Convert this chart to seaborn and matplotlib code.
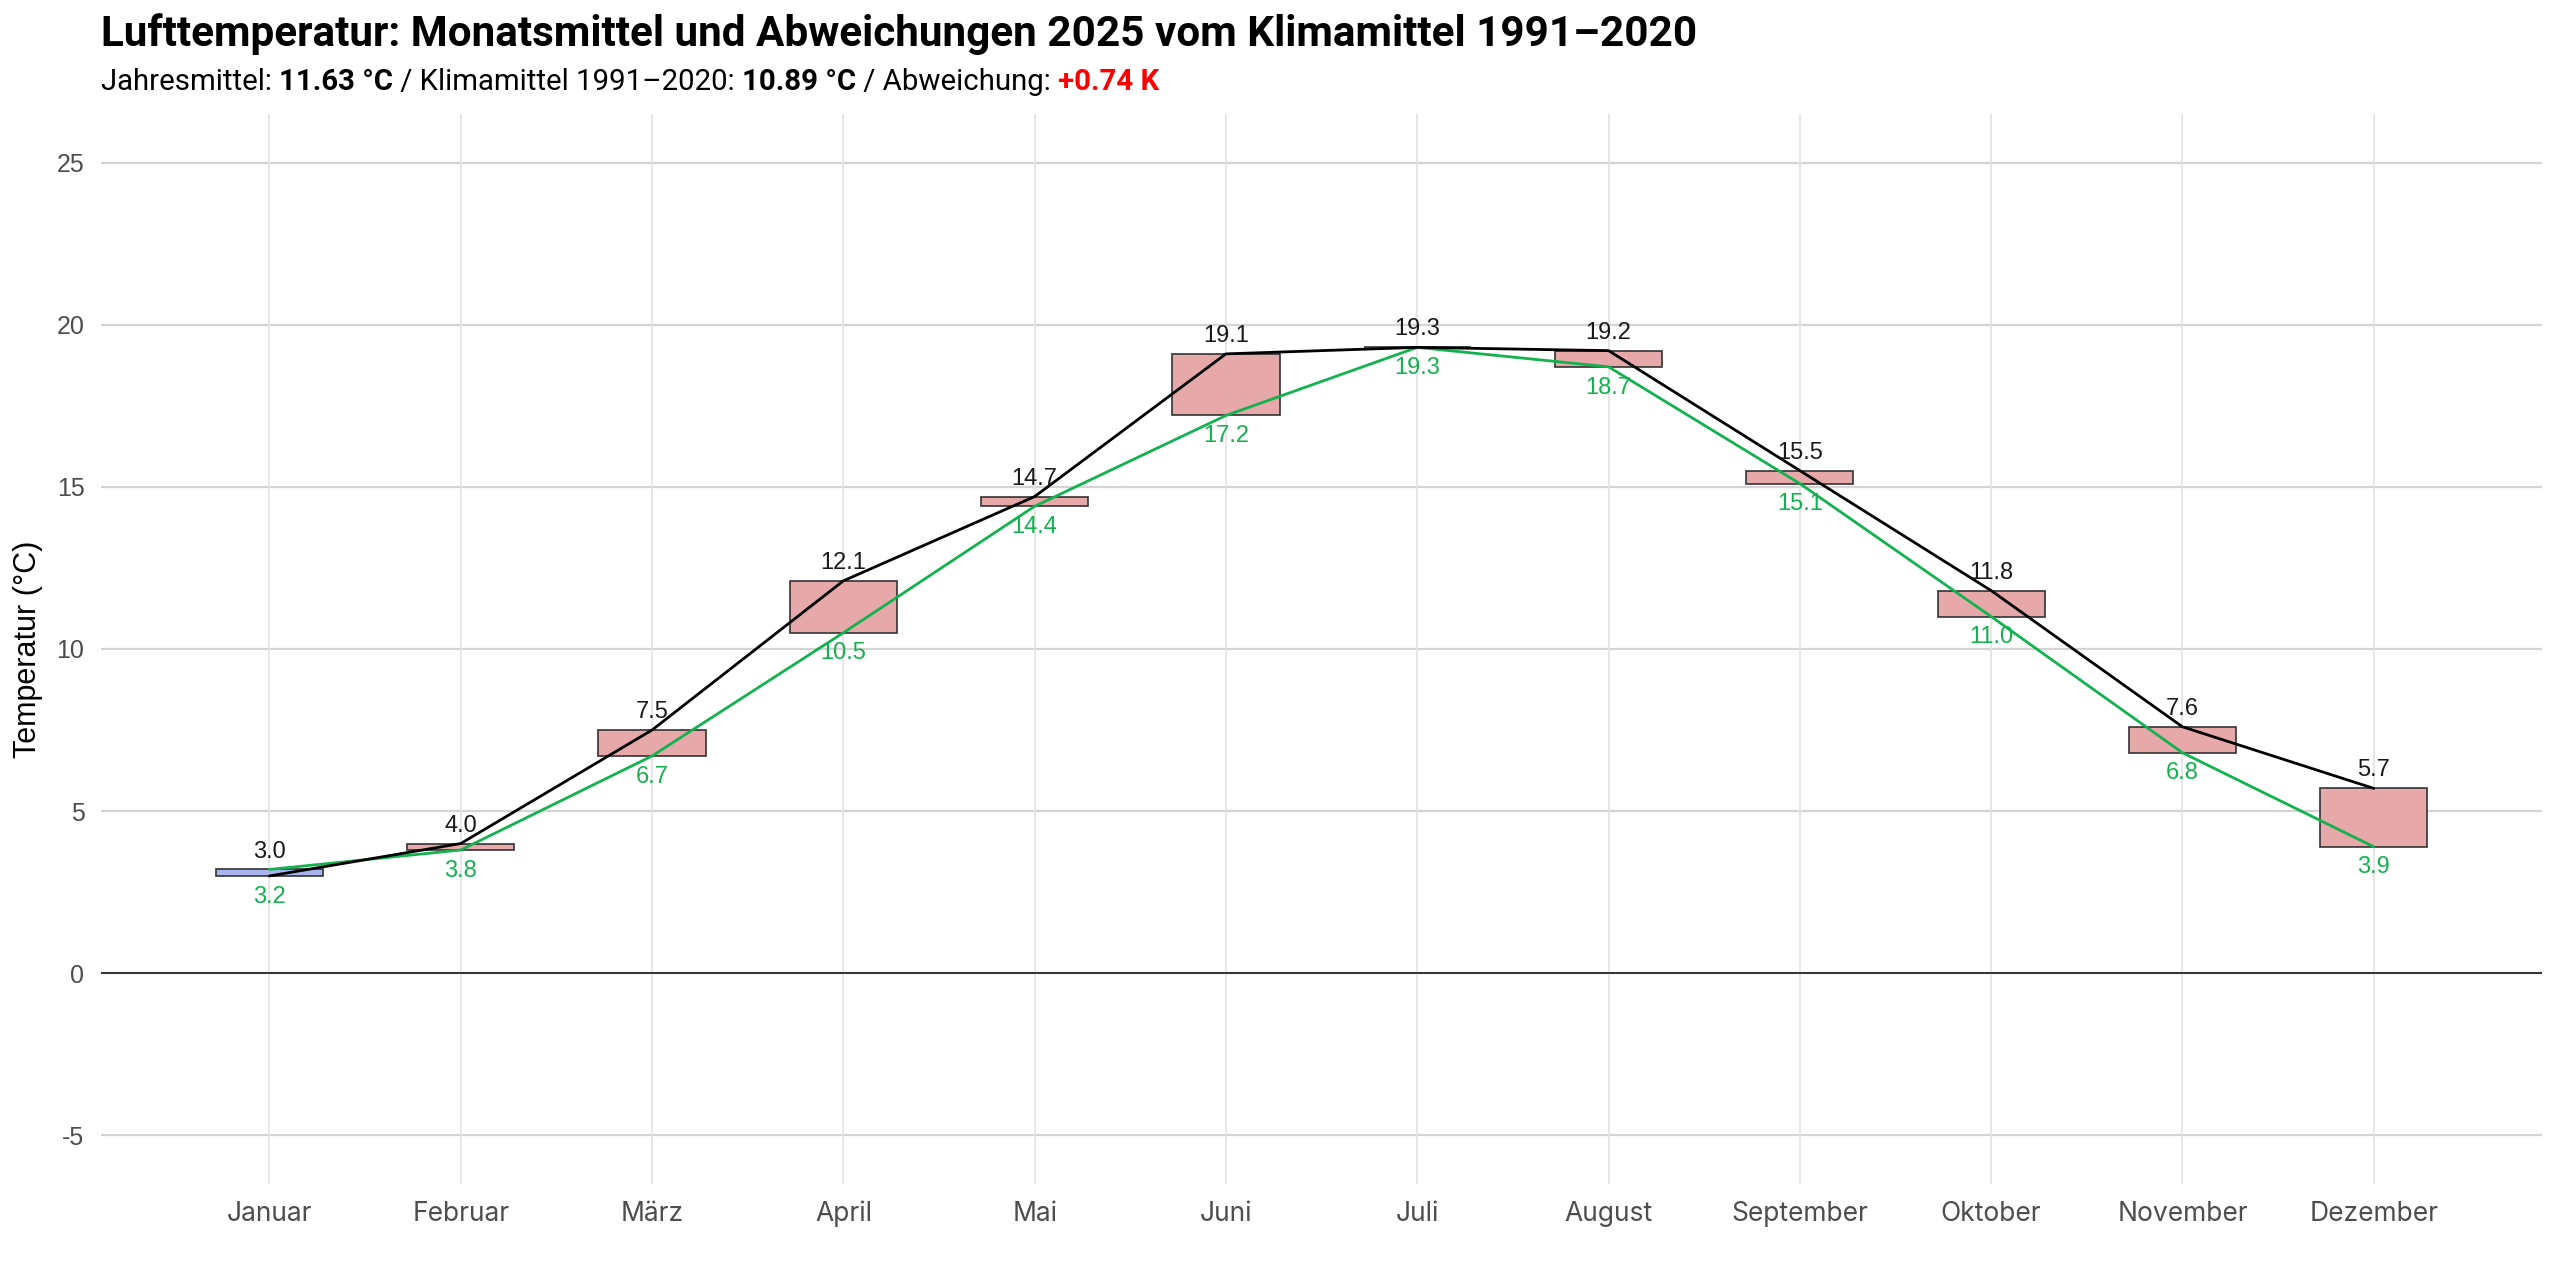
import matplotlib
matplotlib.use("Agg")
import matplotlib.pyplot as plt
import seaborn as sns
import pandas as pd
import numpy as np

months = ["Januar", "Februar", "März", "April", "Mai", "Juni",
          "Juli", "August", "September", "Oktober", "November", "Dezember"]
temp_2025 = [3.0, 4.0, 7.5, 12.1, 14.7, 19.1, 19.3, 19.2, 15.5, 11.8, 7.6, 5.7]
klima_9120 = [3.2, 3.8, 6.7, 10.5, 14.4, 17.2, 19.3, 18.7, 15.1, 11.0, 6.8, 3.9]
y_ticks = [-5, 0, 5, 10, 15, 20, 25]

jahresmittel = "11.63 °C"
klimamittel = "10.89 °C"
abweichung = "+0.74 K"

sns.set_style("white")
plt.rcParams['font.family'] = ['Liberation Sans', 'DejaVu Sans']

df = pd.DataFrame({"monat": months, "t2025": temp_2025, "klima": klima_9120})
df["x"] = np.arange(len(df))
df["diff"] = df["t2025"] - df["klima"]

fig = plt.figure(figsize=(12.8, 6.4), dpi=200)
ax = fig.add_axes([0.0395, 0.075, 0.9535, 0.836])

# grid
for yt in y_ticks:
    ax.axhline(yt, color="#d4d4d4", lw=0.8, zorder=0)
for xi in df["x"]:
    ax.axvline(xi, color="#e3e3e3", lw=0.6, zorder=0)
ax.axhline(0, color="#333333", lw=0.7, zorder=1)

# floating bars between climate mean and 2025
bar_colors = ["#a9b3ee" if d < 0 else "#e6a8a8" for d in df["diff"]]
ax.bar(df["x"], df["diff"], bottom=df["klima"], width=0.56,
       color=bar_colors, edgecolor="#333333", linewidth=0.6, zorder=2)

sns.lineplot(data=df, x="x", y="klima", color="#12b24f", lw=1.0, ax=ax, zorder=3)
sns.lineplot(data=df, x="x", y="t2025", color="black", lw=1.0, ax=ax, zorder=4)

for _, r in df.iterrows():
    top = max(r["t2025"], r["klima"])
    bot = min(r["t2025"], r["klima"])
    ax.annotate(f"{r['t2025']:.1f}", (r["x"], top), xytext=(0, 2.5),
                textcoords="offset points", ha="center", va="bottom",
                fontsize=8.5, color="#1a1a1a", zorder=5)
    ax.annotate(f"{r['klima']:.1f}", (r["x"], bot), xytext=(0, -3.5),
                textcoords="offset points", ha="center", va="top",
                fontsize=8.5, color="#12b24f", zorder=5)

ax.set_xlim(-0.88, 11.88)
ax.set_ylim(-6.5, 26.5)
ax.set_xticks(df["x"])
ax.set_xticklabels(months, fontsize=9.5, color="#4d4d4d", family=["Inter", "DejaVu Sans"])
ax.set_yticks(y_ticks)
ax.set_yticklabels([str(v) for v in y_ticks], fontsize=9, color="#4d4d4d")
ax.tick_params(axis="both", length=0, pad=6)
ax.set_xlabel("")
ax.set_ylabel("Temperatur (°C)", fontsize=11, color="black", labelpad=5)
for s in ax.spines.values():
    s.set_visible(False)

fig.text(0.0395, 0.99, "Lufttemperatur: Monatsmittel und Abweichungen 2025 vom Klimamittel 1991–2020",
         fontsize=15.2, fontweight="bold", color="black", ha="left", va="top",
         family=["Roboto", "DejaVu Sans"])

# subtitle built from pieces
pieces = [("Jahresmittel: ", "normal", "black"), (jahresmittel, "bold", "black"),
          (" / Klimamittel 1991–2020: ", "normal", "black"), (klimamittel, "bold", "black"),
          (" / Abweichung: ", "normal", "black"), (abweichung, "bold", "#ff0000")]
fig.canvas.draw()
renderer = fig.canvas.get_renderer()
xpos = 0.0395
for txt, w, c in pieces:
    t = fig.text(xpos, 0.936, txt, fontsize=10.6, fontweight=w, color=c,
                 ha="left", va="center", family=["Roboto", "DejaVu Sans"])
    bb = t.get_window_extent(renderer=renderer)
    xpos += bb.width / fig.bbox.width

fig.savefig("out.png", dpi=200)
